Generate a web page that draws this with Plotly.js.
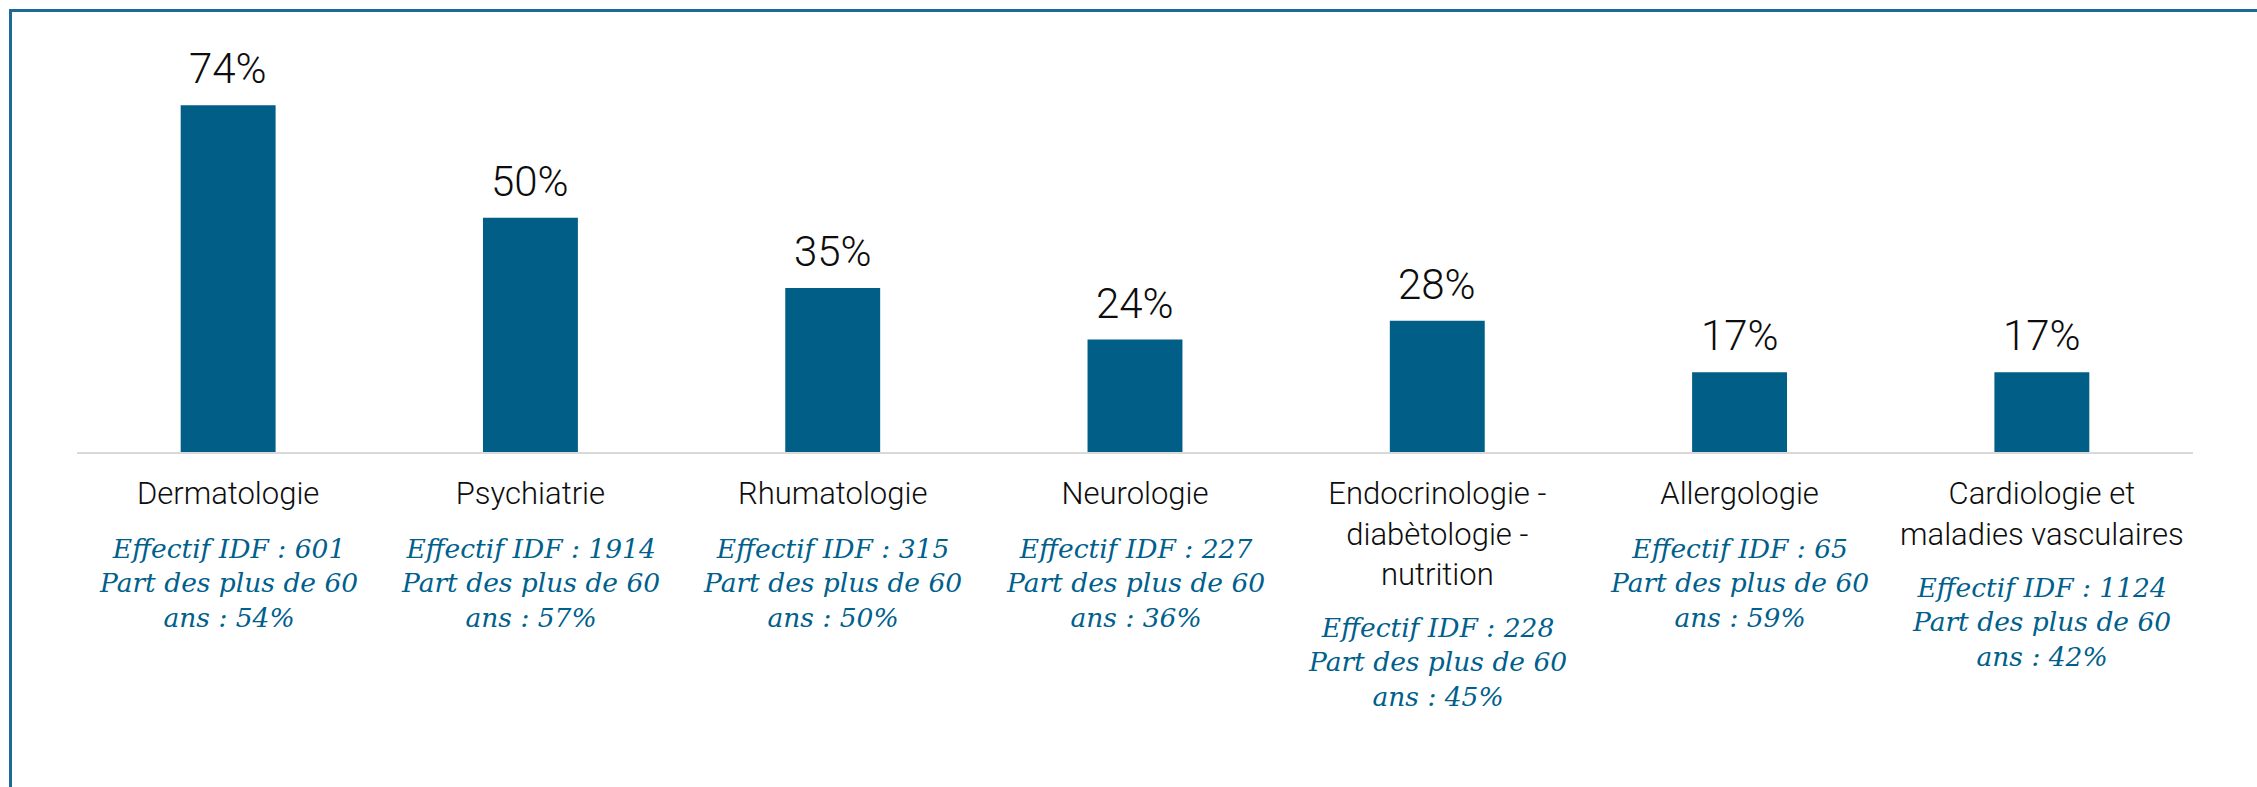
<!DOCTYPE html>
<html>
<head>
<meta charset="utf-8">
<script src="https://cdn.plot.ly/plotly-3.0.1.min.js"></script>
<style>
  html, body { margin: 0; padding: 0; background: #ffffff; overflow: hidden; }
  #wrap { position: relative; width: 2257px; height: 787px; }
  #chart { position: absolute; left: 0; top: 0; width: 2257px; height: 787px; }
  #frame { position: absolute; left: 9px; top: 9px; width: 2300px; height: 820px;
           border-top: 3px solid #1C6A96; border-left: 3px solid #1C6A96; pointer-events: none; }
</style>
</head>
<body>
<div id="wrap">
  <div id="chart"></div>
  <div id="frame"></div>
</div>
<script>
// ---- data ----
const categories = [
  "Dermatologie",
  "Psychiatrie",
  "Rhumatologie",
  "Neurologie",
  "Endocrinologie -\ndiabètologie -\nnutrition",
  "Allergologie",
  "Cardiologie et\nmaladies vasculaires"
];
const shares = [74, 50, 35, 24, 28, 17, 17];          // % bar values
const effectifIDF = [601, 1914, 315, 227, 228, 65, 1124];
const partPlus60 = [54, 57, 50, 36, 45, 59, 42];       // %

// ---- styling ----
const barColor = "#005E87";
const noteColor = "#00608C";
const textColor = "#0d0d0d";
const tickSize = 31;

const tickText = categories.map(c => c.split("\n").join("<br>"));

const trace = {
  type: "bar",
  x: tickText,
  y: shares,
  marker: { color: barColor },
  width: 0.314,
  hoverinfo: "skip"
};

const annotations = [];
// value labels above bars
tickText.forEach((c, i) => {
  annotations.push({
    x: c, y: shares[i], xref: "x", yref: "y",
    text: shares[i] + "%",
    showarrow: false, yanchor: "bottom", yshift: 10,
    font: { family: "Roboto", size: 42, weight: 300, color: textColor }
  });
});
// blue italic notes under category labels
const lineH = tickSize * 1.3;
tickText.forEach((c, i) => {
  const nLines = categories[i].split("\n").length;
  annotations.push({
    x: c, y: 0, xref: "x", yref: "paper",
    text: "Effectif IDF : " + effectifIDF[i] + "<br>Part des plus de 60<br>ans : " + partPlus60[i] + "%",
    showarrow: false, yanchor: "top", align: "center",
    yshift: -(79 + (nLines - 1) * (lineH - 1)),
    font: { family: "DejaVu Serif", size: 26.5, style: "italic", color: noteColor }
  });
});

const layout = {
  width: 2257, height: 787,
  margin: { l: 77, r: 64, t: 77, b: 335 },
  paper_bgcolor: "#ffffff", plot_bgcolor: "#ffffff",
  showlegend: false,
  xaxis: {
    type: "category",
    showline: true, linecolor: "#D9D9D9", linewidth: 2,
    ticks: "", showgrid: false, zeroline: false,
    tickfont: { family: "Roboto", size: tickSize, weight: 300, color: textColor },
    ticklabelstandoff: 13,
    fixedrange: true
  },
  yaxis: {
    range: [0, 80], visible: false, showgrid: false, zeroline: false, fixedrange: true
  },
  annotations: annotations
};

Plotly.newPlot("chart", [trace], layout, { displayModeBar: false, staticPlot: true });
</script>
</body>
</html>
